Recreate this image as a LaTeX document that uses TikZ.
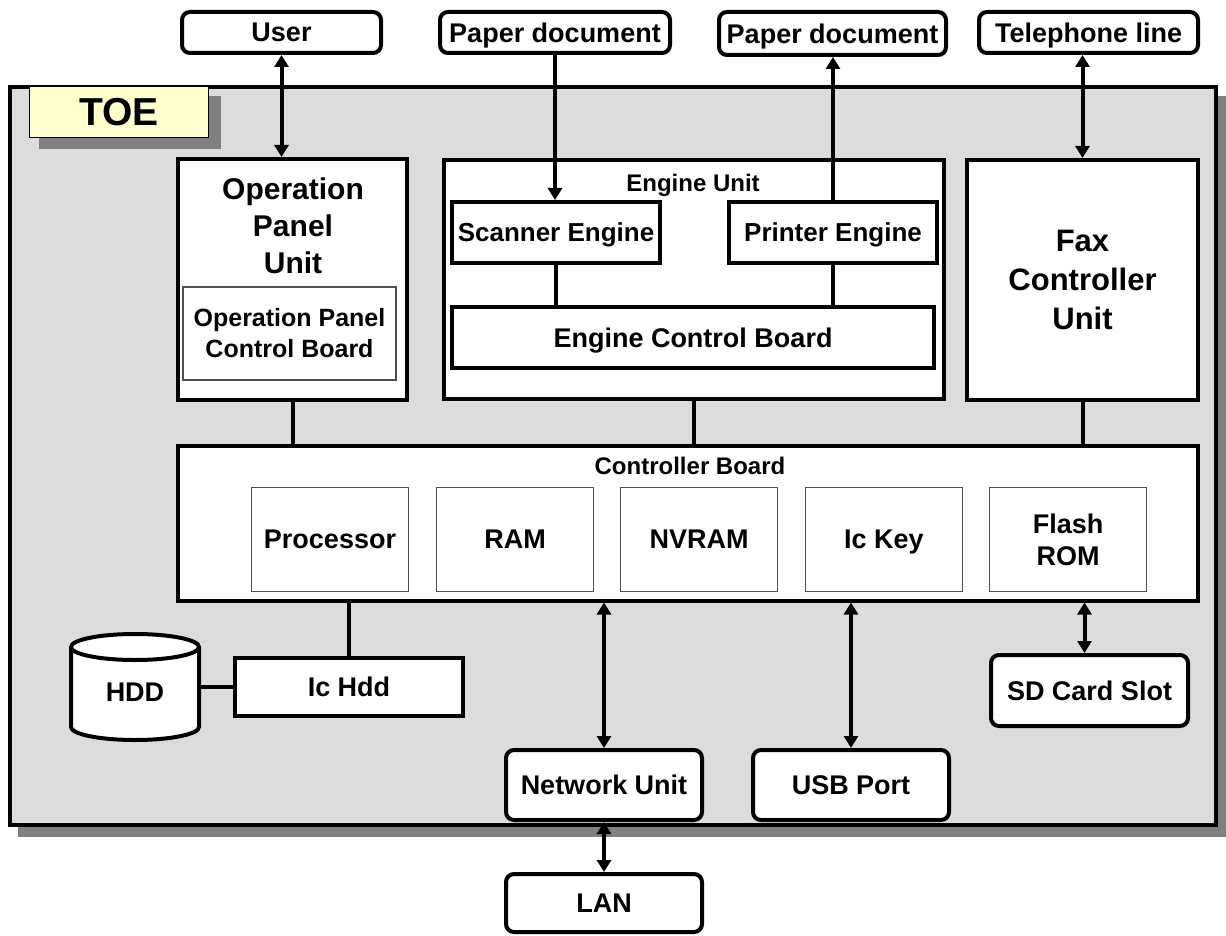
\documentclass[tikz,border=0pt]{standalone}
\usepackage{fontspec}
\setmainfont{Liberation Sans}
\usetikzlibrary{arrows.meta,positioning}
\definecolor{toegray}{HTML}{DCDCDC}
\definecolor{shadowgray}{HTML}{808080}
\definecolor{toeyellow}{HTML}{FFFFCC}
\definecolor{partgray}{HTML}{505050}
\begin{document}
\begin{tikzpicture}[x=1pt, y=-1pt, font=\bfseries, >={Triangle[length=12pt,width=14pt]},
    unit/.style={draw, line width=4pt, fill=white, inner sep=0pt, align=center},
    ext/.style={unit, rounded corners=8pt},
    part/.style={draw=partgray, line width=1.2pt, fill=white, inner sep=0pt, align=center},
    big/.style={font=\bfseries\fontsize{30}{37}\selectfont, align=center},
    mid/.style={font=\bfseries\fontsize{27}{32}\selectfont},
    small/.style={font=\bfseries\fontsize{24}{30}\selectfont},
    nodesc/.style={text depth=0pt},
    wire/.style={line width=4pt}]
    \useasboundingbox (0,0) rectangle (1226,936);

    % TOE frame
    \fill[shadowgray] (18,96) rectangle (1226,837);
    \draw[line width=4pt, fill=toegray] (10,87) rectangle (1216,825);
    \fill[shadowgray] (39,96) rectangle (221,149);
    \node[draw, line width=1pt, fill=toeyellow, minimum width=179, minimum height=51,
          font=\bfseries\fontsize{39}{44}\selectfont] (toe) at (119,112) {TOE};

    % outside
    \node[ext, mid, minimum width=199, minimum height=41] (user) at (281.5,32.5) {User};
    \node[ext, mid, nodesc, minimum width=230, minimum height=41] (paperin) at (555,32.5) {Paper document};
    \node[ext, mid, nodesc, minimum width=227, minimum height=43] (paperout) at (832.5,33.5) {Paper document};
    \node[ext, mid, nodesc, minimum width=219, minimum height=41] (phone) at (1088.5,32.5) {Telephone line};

    % operation panel
    \node[unit, minimum width=229, minimum height=241] (opunit) at (292.5,279.5) {};
    \node[big] (optitle) at (293,226) {Operation\\Panel\\Unit};
    \node[part, font=\bfseries\fontsize{25}{31}\selectfont, minimum width=213, minimum height=93]
        (opboard) at (289.5,333.5) {Operation Panel\\Control Board};

    % engine unit
    \node[unit, minimum width=500, minimum height=239] (engine) at (693.5,279.5) {};
    \node[small, nodesc] (englabel) at (693,183) {Engine Unit};
    \node[unit, nodesc, font=\bfseries\fontsize{26}{31}\selectfont, minimum width=208, minimum height=61] (scanner) at (556,232.5) {Scanner Engine};
    \node[unit, nodesc, font=\bfseries\fontsize{26}{31}\selectfont, minimum width=208, minimum height=61] (printer) at (833,232.5) {Printer Engine};
    \node[unit, mid, nodesc, minimum width=482, minimum height=61] (ecb) at (693,337.5) {Engine Control Board};

    % fax
    \node[unit, font=\bfseries\fontsize{31}{39}\selectfont, minimum width=231, minimum height=240]
        (fax) at (1082.5,280) {Fax\\Controller\\Unit};

    % controller board
    \node[unit, minimum width=1020, minimum height=155] (ctrl) at (688,523) {};
    \node[small] (ctrllabel) at (690,466) {Controller Board};
    \node[part, mid, minimum width=157, minimum height=104] (cpu) at (330,539.5) {Processor};
    \node[part, mid, minimum width=157, minimum height=104] (ram) at (515,539.5) {RAM};
    \node[part, mid, minimum width=157, minimum height=104] (nvram) at (699,539.5) {NVRAM};
    \node[part, mid, nodesc, minimum width=157, minimum height=104] (ickey) at (884,539.5) {Ic Key};
    \node[part, mid, minimum width=157, minimum height=104] (flash) at (1068,539.5) {Flash\\ROM};

    % storage and ports
    \node[unit, mid, minimum width=228, minimum height=58] (ichdd) at (349,687) {Ic Hdd};
    \filldraw[line width=4pt, fill=white] (71,647) -- (71,727)
        arc[start angle=180, end angle=0, x radius=64, y radius=13] -- (199,647);
    \draw[line width=4pt, fill=white] (135,647) ellipse [x radius=64, y radius=13];
    \node[mid, minimum width=128, minimum height=90, inner sep=0pt] (hdd) at (135,692) {HDD};
    \node[ext, mid, minimum width=197, minimum height=71] (sdslot) at (1089.5,690.5) {SD Card Slot};
    \node[ext, mid, minimum width=196, minimum height=70] (netunit) at (604,785) {Network Unit};
    \node[ext, mid, minimum width=196, minimum height=70] (usb) at (851,785) {USB Port};
    \node[ext, mid, minimum width=196, minimum height=58] (lan) at (604,903) {LAN};

    % connectors
    \draw[wire, <->] (user.south) -- (user.south |- opunit.north);
    \draw[wire, ->] (paperin.south) -- (paperin.south |- scanner.north);
    \draw[wire, ->] (printer.north) -- (printer.north |- paperout.south);
    \draw[wire, <->] (fax.north) -- (fax.north |- phone.south);
    \draw[wire] (scanner.south) -- (scanner.south |- ecb.north);
    \draw[wire] (printer.south) -- (printer.south |- ecb.north);
    \draw[wire] (opunit.south) -- (opunit.south |- ctrl.north);
    \draw[wire] (engine.south) -- (engine.south |- ctrl.north);
    \draw[wire] (fax.south) -- (fax.south |- ctrl.north);
    \draw[wire] (ichdd.north) -- (ichdd.north |- ctrl.south);
    \draw[wire] (hdd.east |- ichdd.west) -- (ichdd.west);
    \draw[wire, <->] (netunit.north |- ctrl.south) -- (netunit.north);
    \draw[wire, <->] (usb.north |- ctrl.south) -- (usb.north);
    \draw[wire, <->] ([xshift=-5pt]sdslot.north |- ctrl.south) -- ([xshift=-5pt]sdslot.north);
    \draw[wire, <->] (netunit.south) -- (lan.north);
\end{tikzpicture}
\end{document}
